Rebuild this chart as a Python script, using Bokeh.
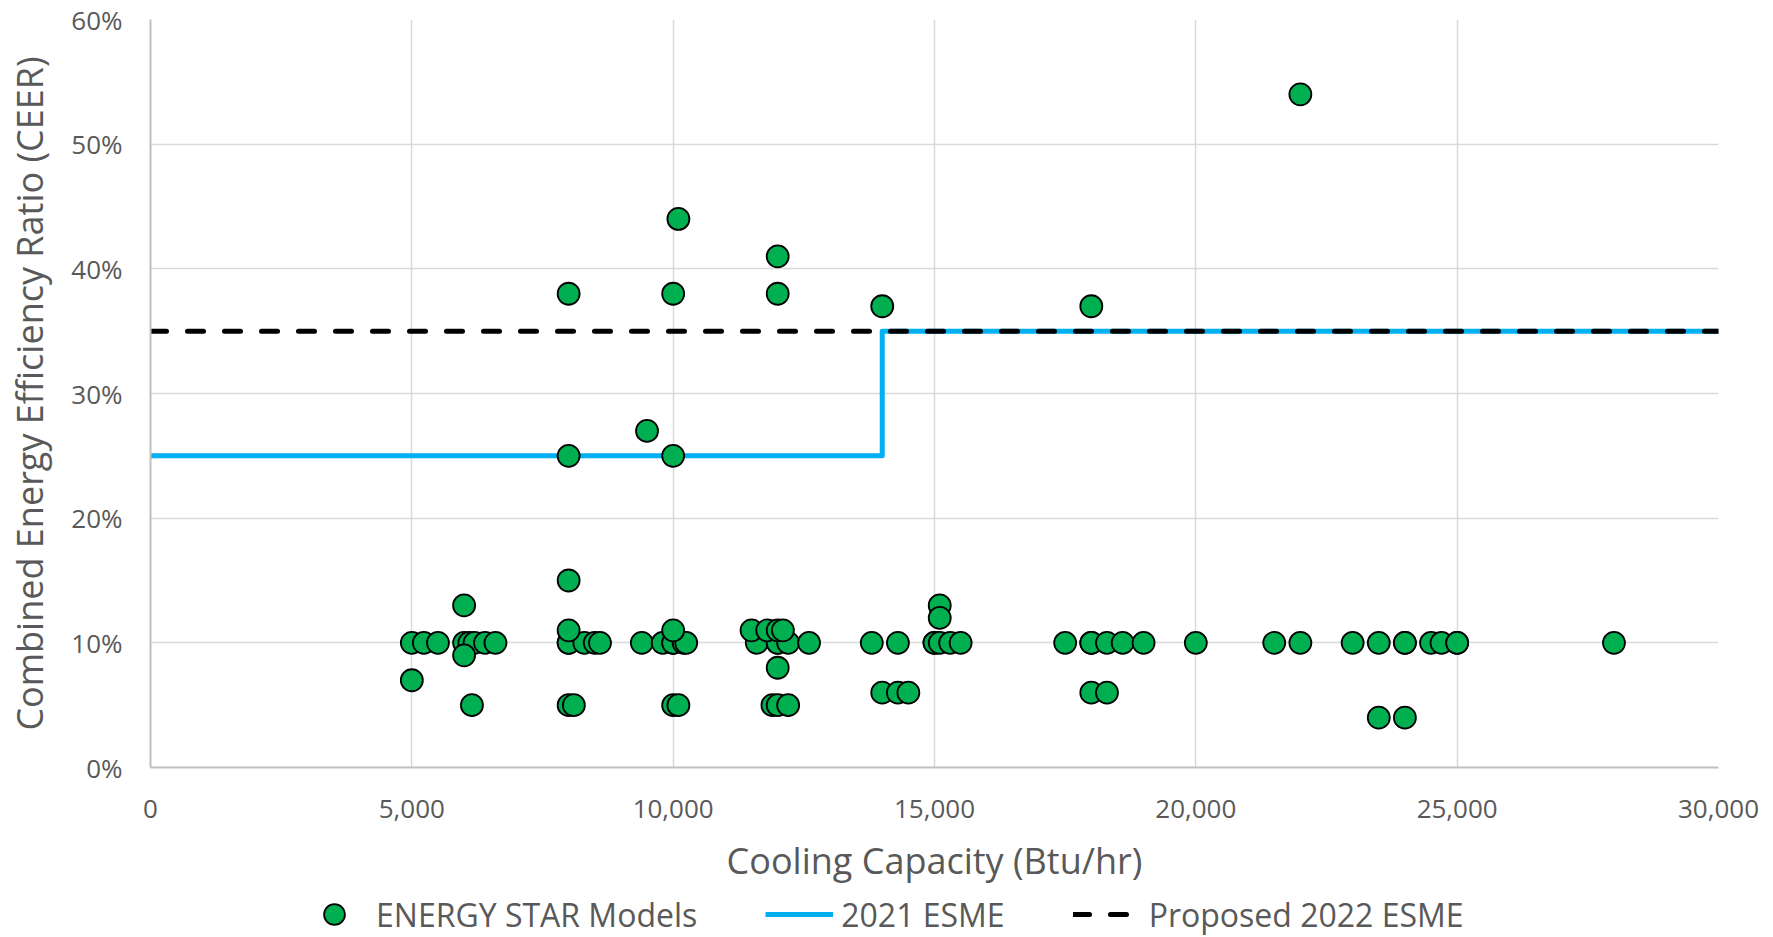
from bokeh.plotting import figure
from bokeh.layouts import column
from bokeh.models import (Range1d, FixedTicker, NumeralTickFormatter, Legend,
                          LegendItem, ColumnDataSource)
from bokeh.embed import file_html
from bokeh.resources import INLINE

# ENERGY STAR room air conditioner models: cooling capacity (Btu/hr) and CEER improvement
capacity = [
    # 10% row
    5000, 5230, 5500, 6000, 6100, 6200, 6400, 6600,
    8000, 8000, 8300, 8500, 8600,
    9400, 9800, 10000, 10000, 10200, 10250,
    11600, 12000, 12000, 12200, 12600,
    13800, 14300,
    15000, 15000, 15100, 15300, 15500,
    17500, 18000, 18000, 18300, 18600, 19000, 20000,
    21500, 22000, 23000, 23500, 24000, 24000, 24500, 24700, 25000, 25000,
    28000,
    # 11% row
    8000, 10000, 11500, 11800, 12000, 12100,
    # other values
    22000, 10100, 12000, 8000, 10000, 12000, 14000, 18000,
    9500, 8000, 10000, 8000, 6000, 15100, 15100,
    6000, 12000, 5000,
    14000, 14300, 14500, 18000, 18300,
    6150, 8000, 8100, 10000, 10100, 11900, 12000, 12200,
    23500, 24000,
]
ceer_gain = [
    0.10, 0.10, 0.10, 0.10, 0.10, 0.10, 0.10, 0.10,
    0.10, 0.10, 0.10, 0.10, 0.10,
    0.10, 0.10, 0.10, 0.10, 0.10, 0.10,
    0.10, 0.10, 0.10, 0.10, 0.10,
    0.10, 0.10,
    0.10, 0.10, 0.10, 0.10, 0.10,
    0.10, 0.10, 0.10, 0.10, 0.10, 0.10, 0.10,
    0.10, 0.10, 0.10, 0.10, 0.10, 0.10, 0.10, 0.10, 0.10, 0.10,
    0.10,
    0.11, 0.11, 0.11, 0.11, 0.11, 0.11,
    0.54, 0.44, 0.41, 0.38, 0.38, 0.38, 0.37, 0.37,
    0.27, 0.25, 0.25, 0.15, 0.13, 0.13, 0.12,
    0.09, 0.08, 0.07,
    0.06, 0.06, 0.06, 0.06, 0.06,
    0.05, 0.05, 0.05, 0.05, 0.05, 0.05, 0.05, 0.05,
    0.04, 0.04,
]

# 2021 ESME levels by capacity bin (step starts at each capacity)
esme_2021_capacity = [0, 14000, 30000]
esme_2021_level = [0.25, 0.35, 0.35]

# Proposed 2022 ESME (flat)
esme_2022_capacity = [0, 30000]
esme_2022_level = [0.35, 0.35]

x_ticks = [0, 5000, 10000, 15000, 20000, 25000, 30000]
y_ticks = [0.0, 0.1, 0.2, 0.3, 0.4, 0.5, 0.6]

FONT = "Open Sans"
GREY = "#595959"
GREEN = "#00B050"
BLUE = "#00B0F0"

MARKER = dict(size=22, fill_color=GREEN, line_color="black", line_width=1.8)
STEP_STYLE = dict(line_color=BLUE, line_width=5, line_join="round")
DASH_STYLE = dict(line_color="black", line_width=5, line_dash="16 21", line_cap="round")

p = figure(width=1773, height=891, output_backend="svg", toolbar_location=None,
           x_range=Range1d(0, 30000), y_range=Range1d(0, 0.6),
           min_border_left=150, min_border_right=55, min_border_top=19,
           min_border_bottom=124)
p.outline_line_color = None

for ax in (p.xaxis[0], p.yaxis[0]):
    ax.major_tick_line_color = None
    ax.minor_tick_line_color = None
    ax.axis_line_color = "#BFBFBF"
    ax.axis_line_width = 2
    ax.major_label_text_font = FONT
    ax.major_label_text_font_size = "26px"
    ax.major_label_text_color = GREY
    ax.axis_label_text_font = FONT
    ax.axis_label_text_font_size = "36px"
    ax.axis_label_text_font_style = "normal"
    ax.axis_label_text_color = GREY

p.xaxis.ticker = FixedTicker(ticks=x_ticks)
p.yaxis.ticker = FixedTicker(ticks=y_ticks)
p.xaxis.formatter = NumeralTickFormatter(format="0,0")
p.yaxis.formatter = NumeralTickFormatter(format="0%")
p.xaxis.axis_label = "Cooling Capacity (Btu/hr)"
p.yaxis.axis_label = "Combined Energy Efficiency Ratio (CEER)"
p.xaxis.major_label_standoff = 26
p.yaxis.major_label_standoff = 22
p.xaxis.axis_label_standoff = 15
p.yaxis.axis_label_standoff = 14

p.xgrid.grid_line_color = "#D9D9D9"
p.ygrid.grid_line_color = "#D9D9D9"
p.xgrid.grid_line_width = 1.5
p.ygrid.grid_line_width = 1.5

src = ColumnDataSource(dict(capacity=capacity, ceer=ceer_gain))
p.step(x=esme_2021_capacity, y=esme_2021_level, mode="after", **STEP_STYLE)
p.line(x=esme_2022_capacity, y=esme_2022_level, **DASH_STYLE)
p.scatter("capacity", "ceer", source=src, **MARKER)

# Legend strip under the chart. Its key renderers reuse the same series with the
# same styles; the strip's x range sits below zero so only the legend shows.
lg = figure(width=1773, height=46, output_backend="svg", toolbar_location=None,
            x_range=Range1d(-2, -1), y_range=Range1d(0, 1),
            x_axis_location=None, y_axis_location=None,
            min_border=0, min_border_left=0, min_border_right=0,
            min_border_top=0, min_border_bottom=0)
lg.grid.visible = False
lg.outline_line_color = None
k_pts = lg.scatter("capacity", "ceer", source=src, **MARKER)
k_step = lg.step(x=esme_2021_capacity, y=esme_2021_level, mode="after", **STEP_STYLE)
k_dash = lg.line(x=esme_2022_capacity, y=esme_2022_level, **DASH_STYLE)

legend = Legend(items=[LegendItem(label="ENERGY STAR Models", renderers=[k_pts]),
                       LegendItem(label="2021 ESME", renderers=[k_step]),
                       LegendItem(label="Proposed 2022 ESME", renderers=[k_dash])],
                location=(150, -3), orientation="horizontal",
                label_text_font=FONT, label_text_font_size="32px",
                label_text_color=GREY, glyph_width=68, glyph_height=52,
                label_standoff=8, spacing=68, padding=0, margin=0,
                border_line_color=None, background_fill_alpha=0)
lg.add_layout(legend)

open("out.html", "w").write(file_html(column(p, lg), INLINE))
